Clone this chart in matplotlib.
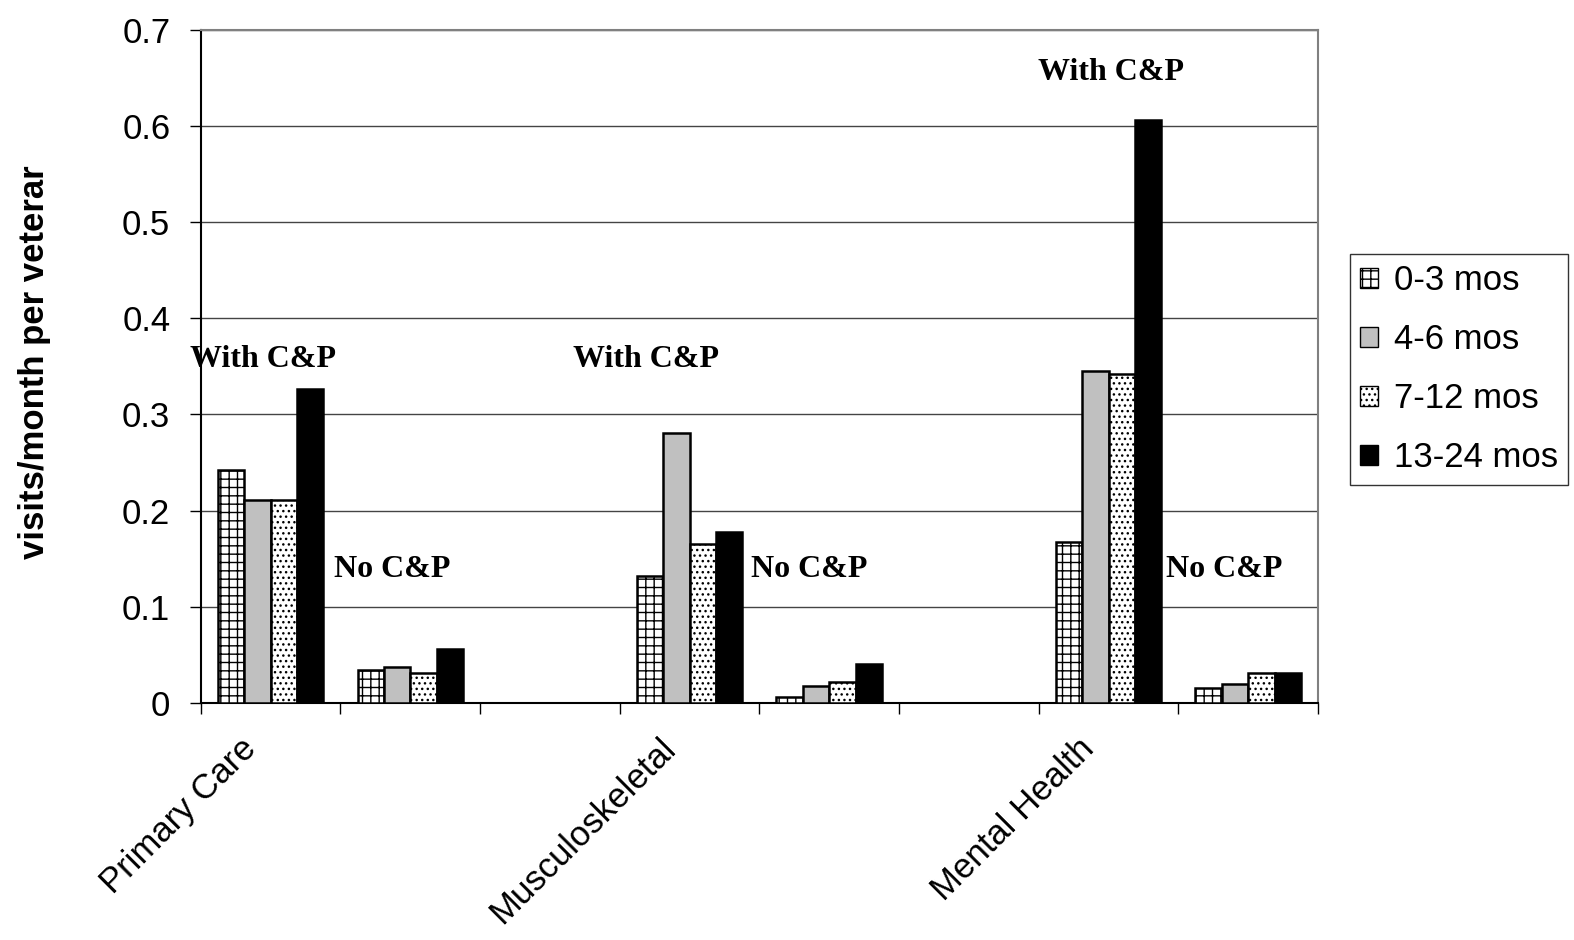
import numpy as np
import matplotlib
matplotlib.use("Agg")
import matplotlib.pyplot as plt
from matplotlib.patches import Patch
from matplotlib.transforms import ScaledTranslation

# ---- data ----
categories = ["Primary Care", "Musculoskeletal", "Mental Health"]
groups = ["With C&P", "No C&P"]
series_names = ["0-3 mos", "4-6 mos", "7-12 mos", "13-24 mos"]
# order: PC-with, PC-no, MSK-with, MSK-no, MH-with, MH-no
s_0_3 = [0.242, 0.034, 0.132, 0.006, 0.167, 0.015]
s_4_6 = [0.211, 0.037, 0.281, 0.017, 0.345, 0.020]
s_7_12 = [0.211, 0.031, 0.165, 0.022, 0.342, 0.031]
s_13_24 = [0.326, 0.056, 0.178, 0.040, 0.606, 0.031]
yticks = [0, 0.1, 0.2, 0.3, 0.4, 0.5, 0.6, 0.7]

series = [s_0_3, s_4_6, s_7_12, s_13_24]
styles = [
    dict(facecolor="white", hatch="++"),
    dict(facecolor="#C0C0C0", hatch=None),
    dict(facecolor="white", hatch="..."),
    dict(facecolor="black", hatch=None),
]

plt.rcParams["font.family"] = ["Liberation Sans", "DejaVu Sans"]
plt.rcParams["hatch.linewidth"] = 1.0
plt.rcParams["hatch.color"] = "black"

fig = plt.figure(figsize=(15.74, 9.40), dpi=100)
ax = fig.add_axes([0.1276, 0.2524, 0.7098, 0.7156])

# slot positions: each category has 3 slots (with, no, gap)
slots = []
for ci in range(len(categories)):
    for gi in range(len(groups)):
        slots.append(ci * 3 + gi)
slots = np.array(slots, dtype=float)

bw = 0.189
for k, (vals, st) in enumerate(zip(series, styles)):
    ax.bar(slots + (k - 1.5) * bw, vals, width=bw, facecolor=st["facecolor"],
           hatch=st["hatch"], edgecolor="black", linewidth=1.8, zorder=3)

ax.set_xlim(-0.5, 7.5)
ax.set_ylim(0, 0.7)

# grid & spines
ax.set_yticks(yticks)
ax.set_yticklabels(["0" if v == 0 else f"{v:.1f}" for v in yticks], fontsize=25)
ax.yaxis.grid(True, color="#444444", linewidth=1.0, zorder=0)
ax.set_axisbelow(True)
for s in ["top", "right"]:
    ax.spines[s].set_color("#808080")
    ax.spines[s].set_linewidth(1.5)
ax.spines["left"].set_color("black")
ax.spines["left"].set_linewidth(1.5)
ax.spines["bottom"].set_color("black")
ax.spines["bottom"].set_linewidth(1.5)
ax.tick_params(axis="y", direction="out", length=8, width=1, pad=14)

# x ticks at slot boundaries
ax.set_xticks(np.arange(-0.5, 8.0, 1.0))
ax.set_xticklabels([])
ax.tick_params(axis="x", which="major", direction="out", length=8, width=1)

# category labels
off = ScaledTranslation(-0.31, -0.29, fig.dpi_scale_trans)
for ci, name in enumerate(categories):
    ax.text(ci * 3, 0, name, transform=ax.get_xaxis_transform() + off,
            fontsize=25, rotation=45, ha="right", va="top",
            rotation_mode="anchor", clip_on=False)

# annotations
ann_pos = [(-0.054, 0.357), (0.873, 0.139), (2.69, 0.357), (3.857, 0.139),
           (6.02, 0.656), (6.83, 0.139)]
for i, (x, y) in enumerate(ann_pos):
    ax.text(x, y, groups[i % 2], ha="center", va="center", fontsize=23,
            fontweight="bold", family=["Liberation Serif", "DejaVu Serif"],
            zorder=5, clip_on=False)

fig.text(0.022, 0.615, "visits/month per veterar", rotation=90, ha="center",
         va="center", fontsize=25, fontweight="bold")

handles = [Patch(facecolor=st["facecolor"], hatch=st["hatch"], edgecolor="black",
                 linewidth=1.0, label=n) for st, n in zip(styles, series_names)]
leg = fig.legend(handles=handles, loc="center left", bbox_to_anchor=(0.8575, 0.607),
                 fontsize=25, frameon=True, fancybox=False, edgecolor="black",
                 handlelength=0.52, handleheight=0.52, handletextpad=0.45,
                 labelspacing=0.75, borderpad=0.3, borderaxespad=0)
leg.get_frame().set_linewidth(1.0)

fig.savefig("out.png", dpi=100)
